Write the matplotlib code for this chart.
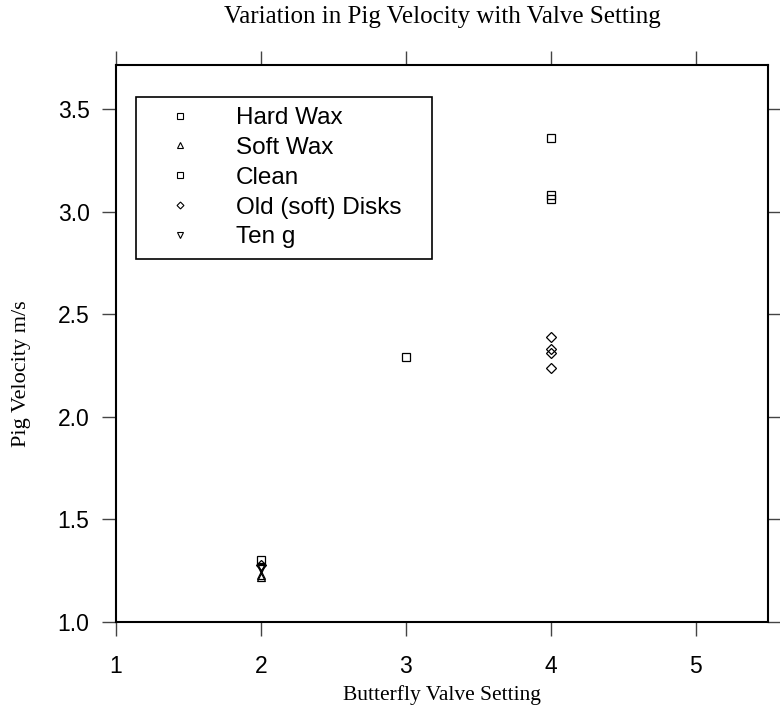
import matplotlib.pyplot as plt
from matplotlib.lines import Line2D

# data
hard_wax_x = [2]
hard_wax_y = [1.30]
soft_wax_x = [2, 2]
soft_wax_y = [1.22, 1.23]
clean_x = [3, 4, 4, 4]
clean_y = [2.29, 3.36, 3.08, 3.06]
old_disks_x = [2, 4, 4, 4, 4]
old_disks_y = [1.28, 2.39, 2.33, 2.31, 2.24]
ten_g_x = [2, 2]
ten_g_y = [1.27, 1.26]

labels = ['Hard Wax', 'Soft Wax', 'Clean', 'Old (soft) Disks', 'Ten g']
markers = ['s', '^', 's', 'D', 'v']
sizes = [6, 6, 6, 5, 6]

serif = 'Liberation Serif'
sans = 'Liberation Sans'

fig = plt.figure(figsize=(7.8, 7.1), dpi=100)
ax = fig.add_axes([0.1487, 0.124, 0.8359, 0.7845])

series = [(hard_wax_x, hard_wax_y), (soft_wax_x, soft_wax_y), (clean_x, clean_y),
          (old_disks_x, old_disks_y), (ten_g_x, ten_g_y)]
for (x, y), m, s in zip(series, markers, sizes):
    ax.plot(x, y, linestyle='none', marker=m, markersize=s, markerfacecolor='none',
            markeredgecolor='black', markeredgewidth=0.9)

ax.set_xlim(1, 5.5)
ax.set_ylim(1.0, 3.715)
ax.set_xticks([1, 2, 3, 4, 5])
ax.set_yticks([1.0, 1.5, 2.0, 2.5, 3.0, 3.5])
ax.set_yticklabels(['1.0', '1.5', '2.0', '2.5', '3.0', '3.5'])
ax.tick_params(direction='out', length=10, width=1, color='#444444',
               top=True, right=True, labelsize=16.5)
ax.tick_params(axis='x', pad=14)
ax.tick_params(axis='y', pad=9)
for lab in ax.get_xticklabels() + ax.get_yticklabels():
    lab.set_fontfamily(sans)
for sp in ax.spines.values():
    sp.set_linewidth(1.5)

ax.set_title('Variation in Pig Velocity with Valve Setting', fontfamily=serif,
             fontsize=18, pad=30)
ax.set_xlabel('Butterfly Valve Setting', fontfamily=serif, fontsize=15.5, labelpad=5)
ax.set_ylabel('Pig Velocity m/s', fontfamily=serif, fontsize=16, labelpad=19, y=0.445)

handles = [Line2D([], [], linestyle='none', marker=m, markersize=s - 1.5,
                  markerfacecolor='none', markeredgecolor='black', markeredgewidth=0.8)
           for m, s in zip(markers, sizes)]
leg = ax.legend(handles, labels, loc='upper left',
                bbox_to_anchor=(0.0307, 0.0, 0.454, 0.9425), mode='expand',
                borderaxespad=0, fancybox=False, edgecolor='black', framealpha=1,
                prop={'family': sans, 'size': 17.5}, handlelength=2.8,
                handletextpad=0.9, borderpad=0.42, labelspacing=0.32)
leg.get_frame().set_linewidth(1.2)

fig.savefig('out.png', dpi=100)
